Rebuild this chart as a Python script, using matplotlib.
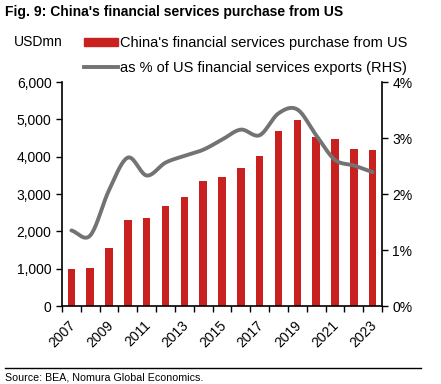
import numpy as np
import matplotlib
matplotlib.use('Agg')
from matplotlib import pyplot as plt
from matplotlib.patches import Patch
from matplotlib.lines import Line2D
from matplotlib.ticker import FuncFormatter, FixedLocator
from matplotlib.transforms import ScaledTranslation

plt.rcParams['font.family'] = ['Liberation Sans', 'DejaVu Sans']

years = list(range(2007, 2024))
purchase = [990, 1030, 1560, 2295, 2355, 2690, 2930, 3345, 3465, 3690,
            4020, 4685, 4995, 4535, 4475, 4195, 4180]
share_pct = [1.35, 1.26, 2.07, 2.65, 2.33, 2.56, 2.68, 2.79, 2.97, 3.15,
             3.05, 3.44, 3.51, 3.05, 2.61, 2.51, 2.39]
year_labels = [str(y) if (y - 2007) % 2 == 0 else '' for y in years]

BAR_RED = '#c8211f'
LINE_GREY = '#737373'


def catmull_rom(x, y, n=20):
    # smooth line like the spreadsheet "smoothed line" option
    x = np.asarray(x, float)
    y = np.asarray(y, float)
    px = np.concatenate([[2*x[0]-x[1]], x, [2*x[-1]-x[-2]]])
    py = np.concatenate([[2*y[0]-y[1]], y, [2*y[-1]-y[-2]]])
    t = np.linspace(0, 1, n, endpoint=False)
    xs, ys = [], []
    for i in range(1, len(px)-2):
        for p, out in ((px, xs), (py, ys)):
            p0, p1, p2, p3 = p[i-1], p[i], p[i+1], p[i+2]
            out.extend(0.5*((2*p1) + (-p0+p2)*t + (2*p0-5*p1+4*p2-p3)*t**2
                            + (-p0+3*p1-3*p2+p3)*t**3))
    xs.append(x[-1])
    ys.append(y[-1])
    return np.array(xs), np.array(ys)


fig = plt.figure(figsize=(4.41, 3.84), dpi=100)
ax = fig.add_axes([62/441, 1-306/384, 320/441, 224/384])
ax2 = ax.twinx()

pos = np.arange(len(years))
ax.bar(pos, purchase, width=0.4, color=BAR_RED, zorder=2)
sx, sy = catmull_rom(pos, share_pct)
ax2.plot(sx, sy, color=LINE_GREY, lw=2.8, solid_capstyle='round', zorder=3)

ax.set_xlim(-0.5, len(years)-0.5)
ax.set_ylim(0, 6000)
ax2.set_ylim(0, 4)
ax.set_yticks(np.arange(0, 6001, 1000))
ax.yaxis.set_major_formatter(FuncFormatter(lambda v, p: '{:,.0f}'.format(v)))
ax2.set_yticks(np.arange(0, 5, 1))
ax2.yaxis.set_major_formatter(FuncFormatter(lambda v, p: '{:.0f}%'.format(v)))

ax.xaxis.set_major_locator(FixedLocator(np.arange(-0.5, len(years), 1)))
ax.set_xticklabels([''] * (len(years)+1))
ax.xaxis.set_minor_locator(FixedLocator(pos))
ax.set_xticklabels(year_labels, minor=True, rotation=45, ha='right',
                   rotation_mode='anchor', fontsize=10)
ax.tick_params(axis='x', which='minor', length=0, pad=9)
ax.tick_params(axis='x', which='major', length=4, width=1, direction='out')
shift = ScaledTranslation(-3/100, 0, fig.dpi_scale_trans)
for lab in ax.xaxis.get_minorticklabels():
    lab.set_transform(lab.get_transform() + shift)

for a in (ax, ax2):
    a.tick_params(axis='y', length=4, width=1, labelsize=10, direction='out')
    a.spines['top'].set_visible(False)
    for s in a.spines.values():
        s.set_linewidth(1.2)
ax2.spines['left'].set_visible(False)
ax2.spines['bottom'].set_visible(False)
ax.spines['right'].set_visible(False)

fig.text(5/441, 1-12/384, "Fig. 9: China's financial services purchase from US",
         fontsize=10, fontweight='bold', va='center', ha='left')
fig.text(14/441, 1-42/384, 'USDmn', fontsize=10, va='center', ha='left')

handles = [Patch(color=BAR_RED), Line2D([], [], color=LINE_GREY, lw=2.8)]
labels = ["China's financial services purchase from US",
          'as % of US financial services exports (RHS)']
fig.legend(handles, labels, loc='upper left', bbox_to_anchor=(84/441, 1-36/384),
           frameon=False, fontsize=10.5, handlelength=2.3, handleheight=0.45,
           handletextpad=0.15, labelspacing=0.75, borderaxespad=0, borderpad=0)

fig.add_artist(Line2D([5/441, 421/441], [1-368/384, 1-368/384], color='black', lw=1))
fig.text(5/441, 1-378/384, 'Source: BEA, Nomura Global Economics.', fontsize=7.7,
         va='center', ha='left')

fig.savefig('out.png', dpi=100)
